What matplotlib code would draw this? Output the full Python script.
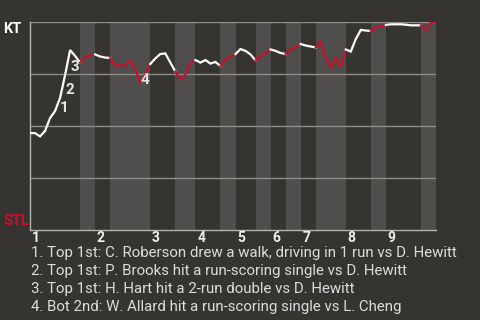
import matplotlib
matplotlib.use("Agg")
import matplotlib.pyplot as plt
import matplotlib.transforms as mtransforms

plt.rcParams['font.family'] = ['Roboto', 'DejaVu Sans']

# win probability for KT after each play (0 = STL, 1 = KT)
win_prob = [0.466, 0.466, 0.450, 0.476, 0.538, 0.572, 0.635, 0.745, 0.865, 0.837,
            0.805, 0.829, 0.841, 0.844, 0.834, 0.829, 0.827, 0.791, 0.791, 0.791,
            0.815, 0.774, 0.709, 0.748, 0.798, 0.825, 0.846, 0.849, 0.805, 0.762,
            0.726, 0.745, 0.803, 0.817, 0.805, 0.817, 0.800, 0.808, 0.788, 0.820,
            0.834, 0.846, 0.870, 0.861, 0.844, 0.815, 0.837, 0.851, 0.868, 0.861,
            0.851, 0.846, 0.868, 0.880, 0.894, 0.887, 0.882, 0.878, 0.906, 0.827,
            0.779, 0.827, 0.784, 0.868, 0.858, 0.918, 0.962, 0.959, 0.957, 0.971,
            0.981, 0.986, 0.989, 0.989, 0.989, 0.987, 0.984, 0.984, 0.984, 0.962,
            0.995, 1.000]

# play index where each half inning starts (last value = end of game)
half_starts = [0, 10, 13, 16, 24, 29, 33, 38, 41, 45, 48, 51, 54, 57, 63, 68, 71, 78, 81]
innings = ['1', '2', '3', '4', '5', '6', '7', '8', '9']

# key plays: play index and description
key_plays = [6, 7, 8, 22]
key_text = [
    "1. Top 1st: C. Roberson drew a walk, driving in 1 run vs D. Hewitt",
    "2. Top 1st: P. Brooks hit a run-scoring single vs D. Hewitt",
    "3. Top 1st: H. Hart hit a 2-run double vs D. Hewitt",
    "4. Bot 2nd: W. Allard hit a run-scoring single vs L. Cheng",
]

bg = '#363431'
band = '#4f4e4c'
red = '#c8102e'

fig = plt.figure(figsize=(4.8, 3.2), dpi=100, facecolor=bg)
ax = fig.add_axes([30 / 480, 1 - 230 / 320, 406 / 480, 208 / 320])
ax.set_facecolor(bg)
ax.set_xlim(0, half_starts[-1])
ax.set_ylim(0, 1)

# shade the bottom halves
for k in range(1, len(half_starts) - 1, 2):
    ax.axvspan(half_starts[k], half_starts[k + 1], color=band, lw=0, zorder=0)

for yv in [0.25, 0.5, 0.75, 1.0]:
    ax.axhline(yv, color='#8e8d8a', lw=1, zorder=1)

# line, white when KT bats, red when STL bats
for k in range(len(half_starts) - 1):
    a, b = half_starts[k], half_starts[k + 1]
    xs = list(range(a, b + 1))
    ax.plot(xs, win_prob[a:b + 1], color='white' if k % 2 == 0 else red,
            lw=1.6, solid_joinstyle='miter', zorder=3)

for n, i in enumerate(key_plays):
    ymid = (win_prob[i - 1] + win_prob[i]) / 2 - 8 / 208
    ax.text(i, ymid, str(n + 1), color='#e6e6e6', fontsize=11, fontweight='bold',
            ha='left', va='baseline', zorder=4)

for s in ['top', 'right']:
    ax.spines[s].set_visible(False)
for s in ['left', 'bottom']:
    ax.spines[s].set_color('#b5b4b1')
    ax.spines[s].set_linewidth(1)
ax.set_xticks([])
ax.set_yticks([])

trans = mtransforms.blended_transform_factory(ax.transData, ax.transAxes)
for j, lab in enumerate(innings):
    ax.text(half_starts[2 * j] + 0.35, -12 / 208, lab, transform=trans, color='#f0f0f0',
            fontsize=10, fontweight='bold', ha='left', va='baseline')

fig.text(3 / 480, 1 - 33 / 320, 'KT', color='white', fontsize=10.5, fontweight='bold',
         ha='left', va='baseline')
fig.text(3 / 480, 1 - 225 / 320, 'STL', color=red, fontsize=10.5, fontweight='bold',
         ha='left', va='baseline')

for n, t in enumerate(key_text):
    fig.text(31 / 480, 1 - (257.5 + 18 * n) / 320, t, color='#dcdcdc', fontsize=10.8,
             ha='left', va='baseline')

fig.savefig('out.png', dpi=100, facecolor=bg)
